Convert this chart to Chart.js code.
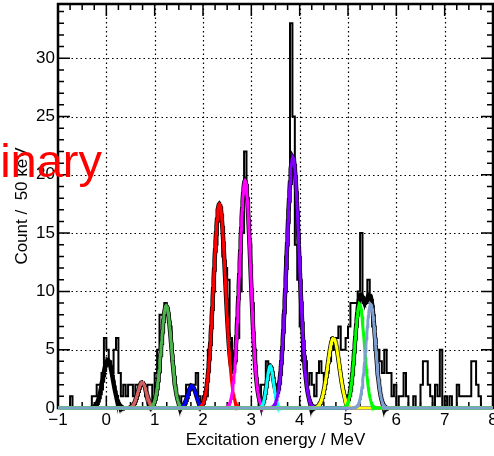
<!DOCTYPE html>
<html><head><meta charset="utf-8">
<script src="https://cdn.jsdelivr.net/npm/chart.js@4.4.1/dist/chart.umd.min.js"></script>
<style>html,body{margin:0;padding:0;background:#fff;overflow:hidden}#wrap{width:494px;height:456px;position:relative}</style>
</head><body><div id="wrap"><canvas id="c" width="494" height="456"></canvas></div>
<script>
// ---------------- data ----------------
const binStart = -1.0;      // MeV, lower edge of first bin
const binWidth = 0.05;      // MeV (50 keV)
const counts = [
  0,0,0,0,0,1,0,0,0,0, 0,0,0,0,1,1,2,2,3,6,
  5,4,3,5,6,3,1,2,1,2, 2,1,2,2,2,2,1,2,2,0,
  3,5,8,8,9,8,7,4,2,1, 0,1,1,2,2,2,2,3,1,0,
  1,1,5,7,10,14,16,16,13,12, 11,6,3,4,6,10,15,22,18,14,
  9,5,2,0,2,2,4,3,3,2, 2,2,4,8,13,17,33,25,14,11,
  7,4,4,2,3,2,1,3,4,3, 2,3,4,6,5,6,7,5,5,6,
  7,9,9,9,10,15,9,9,11,9, 7,5,5,4,3,5,3,3,1,2,
  0,1,1,3,1,0,0,1,0,0, 2,4,4,2,1,0,2,1,5,0,
  1,0,1,0,0,2,1,1,1,1, 1,4,4,2,1,0,0,0,0,0
];
// fitted peak components
const peakCentres = [0.03, 0.74, 1.24, 1.77, 2.34, 2.87, 3.39, 3.86, 4.70, 5.24, 5.47];
const peakHeights = [4.1, 2.2, 8.8, 1.9, 17.5, 19.5, 3.6, 21.5, 6.0, 8.9, 8.9];
const peakSigmas  = [0.105, 0.09, 0.105, 0.085, 0.125, 0.115, 0.07, 0.13, 0.12, 0.10, 0.10];
const xTickValues = [-1,0,1,2,3,4,5,6,7,8];
const yTickValues = [0,5,10,15,20,25,30];
const xTitle = 'Excitation energy / MeV';
const yTitle = 'Count /  50 keV';
const watermark = 'Preliminary';

// ---------------- styles ----------------
const peakColours = ['#000000','#d45f5f','#4db34d','#0000ff','#ff0000','#ff00ff','#00ffff','#8000ff','#ffff00','#00ff00','#7f9fd1'];
const FONT = '"Liberation Sans", Arial, Helvetica, sans-serif';
const X_MIN = -1, X_MAX = 8, Y_MAX = 34.65;

// ---------------- build datasets ----------------
const histPoints = counts.map((c,i)=>({x: binStart + i*binWidth, y: c}));
histPoints.push({x: binStart + counts.length*binWidth, y: counts[counts.length-1]});

function gauss(e, k){ const d=(e-peakCentres[k])/peakSigmas[k]; return peakHeights[k]*Math.exp(-0.5*d*d); }
const evalX = [];
for (let i=0;i<=900;i++) evalX.push(+(X_MIN + i*0.01).toFixed(3));

const datasets = [];
datasets.push({label:'hist', data:histPoints, stepped:'before', borderColor:'#000', borderWidth:2, pointRadius:0, fill:false, order:1000, clip:false});
datasets.push({label:'total', data:evalX.map(e=>{
    const s = peakCentres.reduce((acc,_,k)=>acc+gauss(e,k),0);
    return {x:e, y: s < 0.03 ? null : s};
  }),
  borderColor:'#000', borderWidth:4.5, pointRadius:0, fill:false, spanGaps:false, order:500, clip:false});
peakCentres.forEach((_,k)=>{
  datasets.push({label:'peak'+k, data:evalX.map(e=>({x:e, y:gauss(e,k)})),
    borderColor:peakColours[k], borderWidth:3, pointRadius:0, fill:false, order:100-k, clip:false});
});

// ---------------- frame / ticks / grid plugin ----------------
const framePlugin = {
  id:'rootFrame',
  beforeDatasetsDraw(chart){
    const {ctx, chartArea:a, scales:{x, y}} = chart;
    ctx.save();
    ctx.strokeStyle = '#000';
    // dotted grid
    ctx.lineWidth = 1.2;
    ctx.setLineDash([1.5,3]);
    ctx.beginPath();
    xTickValues.forEach(v=>{ if(v<=X_MIN||v>=X_MAX) return; const p=Math.round(x.getPixelForValue(v))+0.5; ctx.moveTo(p,a.top); ctx.lineTo(p,a.bottom); });
    yTickValues.forEach(v=>{ if(v<=0||v>=Y_MAX) return; const p=Math.round(y.getPixelForValue(v))+0.5; ctx.moveTo(a.left,p); ctx.lineTo(a.right,p); });
    ctx.stroke();
    ctx.setLineDash([]);
    // ticks
    ctx.lineWidth = 1.5;
    ctx.beginPath();
    for (let i=0;i<=36;i++){
      const v = X_MIN + i*0.25; const p = x.getPixelForValue(v);
      const len = (i%4===0) ? 12 : 6;
      ctx.moveTo(p,a.bottom); ctx.lineTo(p,a.bottom-len);
      ctx.moveTo(p,a.top); ctx.lineTo(p,a.top+len);
    }
    for (let v=0; v<=34; v++){
      const p = y.getPixelForValue(v);
      const len = (v%5===0) ? 12 : 6;
      ctx.moveTo(a.left,p); ctx.lineTo(a.left+len,p);
      ctx.moveTo(a.right,p); ctx.lineTo(a.right-len,p);
    }
    ctx.stroke();
    // frame
    ctx.lineWidth = 2.5;
    ctx.strokeRect(a.left, a.top, a.right-a.left, a.bottom-a.top);
    ctx.restore();
  },
  afterDraw(chart){
    const ctx = chart.ctx;
    ctx.save();
    ctx.fillStyle = '#ff0000';
    ctx.font = '47px ' + FONT;
    ctx.textAlign = 'right';
    ctx.textBaseline = 'alphabetic';
    ctx.fillText(watermark, 102, 177);
    ctx.restore();
  }
};

new Chart(document.getElementById('c'), {
  type:'line',
  data:{datasets},
  options:{
    responsive:false, animation:false, devicePixelRatio:1,
    layout:{padding:{left:0,right:1,top:4,bottom:0}},
    plugins:{legend:{display:false}, tooltip:{enabled:false}},
    elements:{point:{radius:0}, line:{tension:0}},
    scales:{
      x:{type:'linear', min:X_MIN, max:X_MAX,
        afterBuildTicks(s){ s.ticks = xTickValues.map(v=>({value:v})); },
        afterFit(s){ s.height=48; s.paddingLeft=0; s.paddingRight=0; },
        grid:{display:false, drawTicks:false}, border:{display:false},
        ticks:{font:{family:FONT,size:17}, color:'#000', padding:2, maxRotation:0, minRotation:0, autoSkip:false,
          callback:v=>String(v).replace('-','\u2212')},
        title:{display:true, text:xTitle, font:{family:FONT,size:17}, color:'#000', padding:{top:0,bottom:5}}
      },
      y:{type:'linear', min:0, max:Y_MAX,
        afterBuildTicks(s){ s.ticks = yTickValues.map(v=>({value:v})); },
        afterFit(s){ s.width=58; s.paddingTop=0; s.paddingBottom=0; },
        grid:{display:false, drawTicks:false}, border:{display:false},
        ticks:{font:{family:FONT,size:17}, color:'#000', padding:3, autoSkip:false},
        title:{display:true, text:yTitle, font:{family:FONT,size:17}, color:'#000', padding:{top:12,bottom:0}}
      }
    }
  },
  plugins:[framePlugin]
});
</script></body></html>
